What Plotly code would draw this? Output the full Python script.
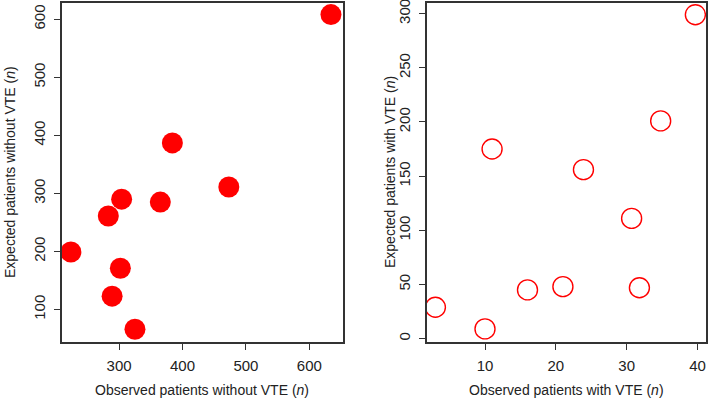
import plotly.graph_objects as go

W, H = 709, 401

# Left panel: patients without VTE
obs_without = [634, 384, 473, 304, 365, 283, 224, 302, 289, 325]
exp_without = [608, 387, 311, 290, 285, 261, 199, 171, 123, 66]

# Right panel: patients with VTE
obs_with = [39.7, 34.8, 11.0, 23.9, 30.7, 31.8, 21.0, 16.0, 3.0, 10.0]
exp_with = [299, 201, 175, 156, 111, 47, 48, 45, 29, 9]

left_xticks = [300, 400, 500, 600]
left_yticks = [100, 200, 300, 400, 500, 600]
right_xticks = [10, 20, 30, 40]
right_yticks = [0, 50, 100, 150, 200, 250, 300]

FONT = "Liberation Sans, Arial, sans-serif"
AXCOL = "#333333"

fig = go.Figure()
fig.add_trace(go.Scatter(x=obs_without, y=exp_without, mode="markers",
                         marker=dict(size=21, color="#ff0000", line=dict(width=0)),
                         xaxis="x", yaxis="y", showlegend=False))
fig.add_trace(go.Scatter(x=obs_with, y=exp_with, mode="markers",
                         marker=dict(size=20, symbol="circle-open", color="#ff0000",
                                     line=dict(width=1.4, color="#ff0000")),
                         xaxis="x2", yaxis="y2", showlegend=False))

def ax(domain, rng, ticks, angle, anchor):
    return dict(domain=domain, range=rng, tickvals=ticks, ticktext=[str(t) for t in ticks],
                tickangle=angle, showgrid=False, zeroline=False, showline=True,
                mirror=True, linecolor=AXCOL, linewidth=1.5, ticks="outside",
                ticklen=6, tickwidth=1.3, tickcolor=AXCOL, anchor=anchor,
                ticklabelstandoff=3, ticklabeloverflow="allow", automargin=False,
                tickfont=dict(family=FONT, size=15, color="#222222"))

ydom = [1 - 342 / H, 1 - 3 / H]
fig.update_layout(
    width=W, height=H, margin=dict(l=0, r=0, t=0, b=0),
    paper_bgcolor="white", plot_bgcolor="white",
    xaxis=ax([62 / W, 343 / W], [210, 653], left_xticks, 0, "y"),
    yaxis=ax(ydom, [44, 628], left_yticks, -90, "x"),
    xaxis2=ax([426.7 / W, 706 / W], [1.77, 41.2], right_xticks, 0, "y2"),
    yaxis2=ax(ydom, [-3.1, 309.8], right_yticks, -90, "x2"),
)

def ann(text, px, py, angle=0):
    fig.add_annotation(text=text, x=px / W, y=1 - py / H, xref="paper", yref="paper",
                       showarrow=False, textangle=angle, xanchor="center", yanchor="middle",
                       font=dict(family=FONT, size=14, color="#222222"))

ann("Observed patients without VTE (<i>n</i>)", 202, 390)
ann("Observed patients with VTE (<i>n</i>)", 566, 390)
ann("Expected patients without VTE (<i>n</i>)", 10, 172, -90)
ann("Expected patients with VTE (<i>n</i>)", 390, 172, -90)

fig.write_html("out.html", config={"displayModeBar": False},
               post_script="document.body.style.margin='0px';document.body.style.overflow='hidden';")
